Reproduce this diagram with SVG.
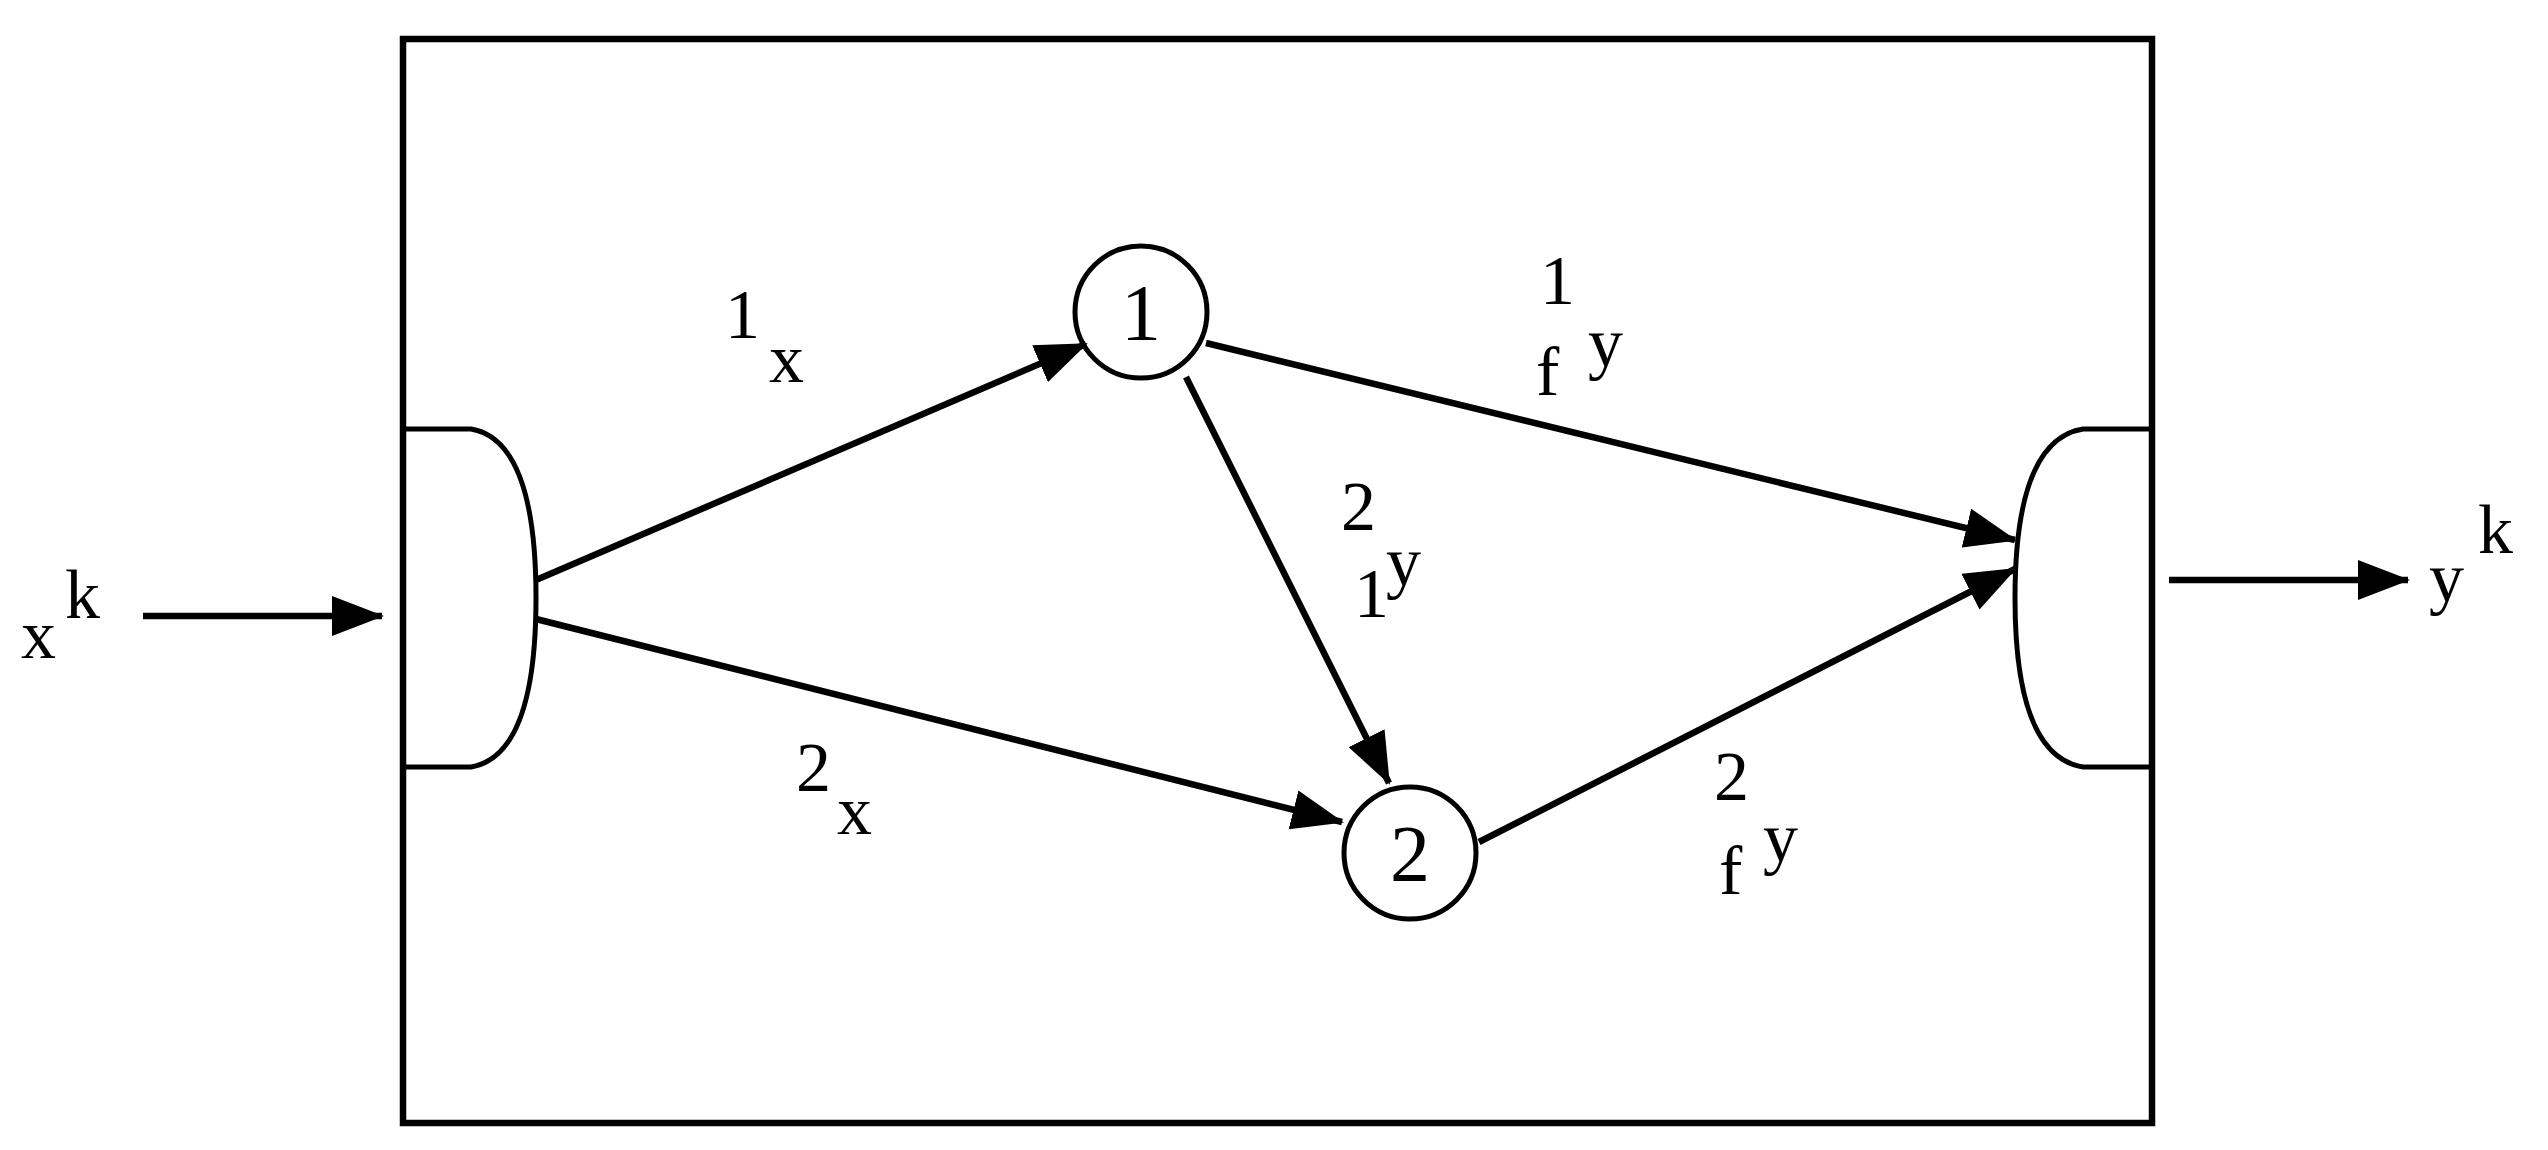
<svg xmlns="http://www.w3.org/2000/svg" width="2548" height="1150" viewBox="0 0 2548 1150">
<style>
.l{stroke:#000;stroke-width:6.5;fill:none}
.s{stroke:#000;stroke-width:5;fill:none}
text{font-family:"Liberation Serif",serif;fill:#000;font-size:70px}
.n{font-size:80px;text-anchor:middle}
</style>
<defs><marker id="a" markerUnits="userSpaceOnUse" markerWidth="52" markerHeight="40" refX="50" refY="20" orient="auto"><path d="M0,0 L52,20 L0,40 Z" fill="#000"/></marker></defs>
<rect x="403" y="39" width="1749" height="1084" fill="#fff" stroke="#000" stroke-width="6.5"/>
<g id="inport"><path class="s" d="M403,429 H471 Q536,440 536,598 Q536,756 471,767 H403"/></g>
<g id="outport"><path class="s" d="M2152,429 H2083 Q2015,440 2015,598 Q2015,756 2083,767 H2152"/></g>
<g id="node1"><circle cx="1141" cy="312" r="66" fill="#fff" stroke="#000" stroke-width="5"/><text class="n" x="1141" y="340">1</text></g>
<g id="node2"><circle cx="1410" cy="853" r="66" fill="#fff" stroke="#000" stroke-width="5"/><text class="n" x="1410" y="881">2</text></g>
<g id="connectors">
<line class="l" x1="143" y1="616" x2="382" y2="616" marker-end="url(#a)"/>
<line class="l" x1="2169" y1="580" x2="2408" y2="580" marker-end="url(#a)"/>
<line class="l" x1="536" y1="580" x2="1086" y2="344" marker-end="url(#a)"/>
<line class="l" x1="536" y1="619" x2="1342" y2="822" marker-end="url(#a)"/>
<line class="l" x1="1186" y1="377" x2="1389" y2="783" marker-end="url(#a)"/>
<line class="l" x1="1206" y1="343" x2="2015" y2="540" marker-end="url(#a)"/>
<line class="l" x1="1479" y1="842" x2="2015" y2="569" marker-end="url(#a)"/>
</g>
<g id="labels">
<text x="21" y="658">x</text><text x="65" y="618">k</text>
<text x="2429" y="601">y</text><text x="2478" y="553">k</text>
<text x="725" y="338">1</text><text x="769" y="382">x</text>
<text x="796" y="791">2</text><text x="837" y="834">x</text>
<text x="1540" y="304">1</text><text x="1588" y="366">y</text><text x="1536" y="395">f</text>
<text x="1341" y="530">2</text><text x="1386" y="585">y</text><text x="1354" y="617">1</text>
<text x="1714" y="800">2</text><text x="1763" y="861">y</text><text x="1719" y="894">f</text>
</g>
</svg>
